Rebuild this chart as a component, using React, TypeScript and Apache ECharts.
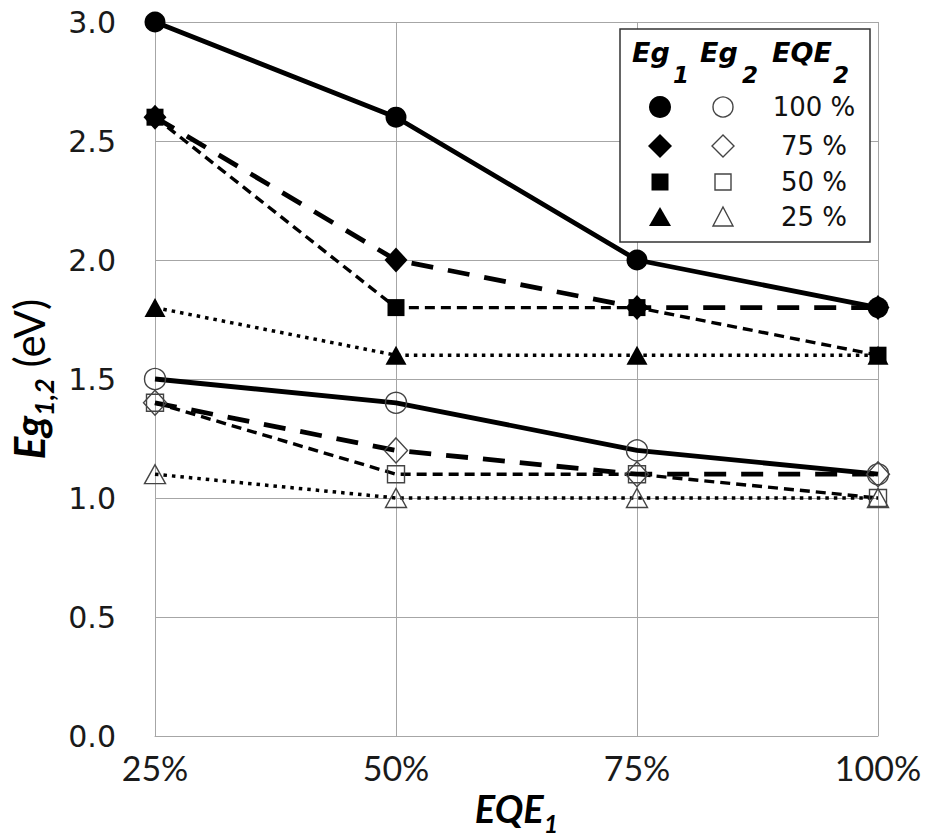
import React, { useEffect, useRef } from "react";
import * as echarts from "echarts";

const eqe1 = [25, 50, 75, 100];
const yTicks = [0, 0.5, 1.0, 1.5, 2.0, 2.5, 3.0];

// Eg1 (filled markers) by EQE2
const eg1_100 = [3.0, 2.6, 2.0, 1.8];
const eg1_75 = [2.6, 2.0, 1.8, 1.8];
const eg1_50 = [2.6, 1.8, 1.8, 1.6];
const eg1_25 = [1.8, 1.6, 1.6, 1.6];
// Eg2 (hollow markers) by EQE2
const eg2_100 = [1.5, 1.4, 1.2, 1.1];
const eg2_75 = [1.4, 1.2, 1.1, 1.1];
const eg2_50 = [1.4, 1.1, 1.1, 1.0];
const eg2_25 = [1.1, 1.0, 1.0, 1.0];

const legendRows = ["100 %", "75 %", "50 %", "25 %"];

type Kind = "100" | "75" | "50" | "25";

const lineFor: Record<Kind, { type: any; width: number }> = {
  "100": { type: "solid", width: 4.8 },
  "75": { type: [22, 15], width: 4.8 },
  "50": { type: [10, 6], width: 3.4 },
  "25": { type: [3.5, 5], width: 3.5 },
};
const symFor: Record<Kind, { symbol: string; size: any }> = {
  "100": { symbol: "circle", size: 21 },
  "75": { symbol: "diamond", size: [23, 25] },
  "50": { symbol: "rect", size: 17 },
  "25": { symbol: "triangle", size: [21, 19] },
};

function makeSeries(name: string, values: number[], kind: Kind, filled: boolean) {
  const l = lineFor[kind];
  const s = symFor[kind];
  return {
    name,
    type: "line",
    data: eqe1.map((x, i) => [x, values[i]]),
    symbol: s.symbol,
    symbolSize: s.size,
    showAllSymbol: true,
    lineStyle: { color: "#000", width: l.width, type: l.type },
    itemStyle: filled
      ? { color: "#000", borderColor: "#000", borderWidth: 0 }
      : { color: "rgba(0,0,0,0)", borderColor: "#444", borderWidth: 1.4 },
    emphasis: { disabled: true },
    z: 3,
  };
}

export default function App() {
  const ref = useRef<HTMLDivElement>(null);
  useEffect(() => {
    if (!ref.current) return;
    const chart = echarts.init(ref.current, undefined, { renderer: "svg" });
    const gridColor = "#a6a6a6";
    const legendFont = "DejaVu Sans";
    const rowsY = [107, 146, 182, 217];
    const fx = 660;
    const hx = 723;
    const graphics: any[] = [
      {
        type: "rect",
        shape: { x: 620, y: 29, width: 250, height: 213 },
        style: { fill: "#fff", stroke: "#333", lineWidth: 1.5 },
        z: 100,
      },
      // header
      { type: "text", x: 632, y: 52, z: 101, style: { text: "Eg", font: `italic bold 27px ${legendFont}`, fill: "#000", textVerticalAlign: "middle" } },
      { type: "text", x: 673, y: 75, z: 101, style: { text: "1", font: `italic bold 23px ${legendFont}`, fill: "#000", textVerticalAlign: "middle" } },
      { type: "text", x: 700, y: 52, z: 101, style: { text: "Eg", font: `italic bold 27px ${legendFont}`, fill: "#000", textVerticalAlign: "middle" } },
      { type: "text", x: 742, y: 75, z: 101, style: { text: "2", font: `italic bold 23px ${legendFont}`, fill: "#000", textVerticalAlign: "middle" } },
      { type: "text", x: 772, y: 52, z: 101, style: { text: "EQE", font: `italic bold 27px ${legendFont}`, fill: "#000", textVerticalAlign: "middle" } },
      { type: "text", x: 833, y: 75, z: 101, style: { text: "2", font: `italic bold 23px ${legendFont}`, fill: "#000", textVerticalAlign: "middle" } },
      // row 1: circles
      { type: "circle", shape: { cx: fx, cy: rowsY[0], r: 11 }, style: { fill: "#000" }, z: 101 },
      { type: "circle", shape: { cx: hx, cy: rowsY[0], r: 10 }, style: { fill: "none", stroke: "#444", lineWidth: 1.4 }, z: 101 },
      // row 2: diamonds
      { type: "polygon", shape: { points: [[fx, rowsY[1] - 12], [fx + 12, rowsY[1]], [fx, rowsY[1] + 12], [fx - 12, rowsY[1]]] }, style: { fill: "#000" }, z: 101 },
      { type: "polygon", shape: { points: [[hx, rowsY[1] - 11], [hx + 11, rowsY[1]], [hx, rowsY[1] + 11], [hx - 11, rowsY[1]]] }, style: { fill: "none", stroke: "#444", lineWidth: 1.4 }, z: 101 },
      // row 3: squares
      { type: "rect", shape: { x: fx - 8.5, y: rowsY[2] - 8.5, width: 17, height: 17 }, style: { fill: "#000" }, z: 101 },
      { type: "rect", shape: { x: hx - 8, y: rowsY[2] - 8, width: 16, height: 16 }, style: { fill: "none", stroke: "#444", lineWidth: 1.4 }, z: 101 },
      // row 4: triangles
      { type: "polygon", shape: { points: [[fx, rowsY[3] - 10], [fx + 11, rowsY[3] + 9], [fx - 11, rowsY[3] + 9]] }, style: { fill: "#000" }, z: 101 },
      { type: "polygon", shape: { points: [[hx, rowsY[3] - 10], [hx + 10, rowsY[3] + 9], [hx - 10, rowsY[3] + 9]] }, style: { fill: "none", stroke: "#444", lineWidth: 1.4 }, z: 101 },
      ...legendRows.map((t, i) => ({
        type: "text",
        x: 814,
        y: rowsY[i],
        z: 101,
        style: { text: t, font: `26px ${legendFont}`, fill: "#111", textAlign: "center", textVerticalAlign: "middle" },
      })),
    ];

    chart.setOption({
      animation: false,
      backgroundColor: "#fff",
      grid: { left: 155, right: 51, top: 22, bottom: 103, containLabel: false, outerBoundsMode: "none" },
      xAxis: {
        type: "value",
        min: 25,
        max: 100,
        interval: 25,
        name: "{a|EQE}{s|1}",
        nameLocation: "middle",
        nameGap: 34,
        nameTextStyle: {
          rich: {
            a: { fontFamily: "Lato", fontWeight: "bold", fontStyle: "italic", fontSize: 38, lineHeight: 56, color: "#000", verticalAlign: "middle" },
            s: { fontFamily: "Lato", fontWeight: "bold", fontStyle: "italic", fontSize: 25, lineHeight: 25, color: "#000", verticalAlign: "bottom" },
          },
        },
        axisLine: { show: true, lineStyle: { color: gridColor, width: 1 } },
        axisTick: { show: false },
        splitLine: { show: true, lineStyle: { color: gridColor, width: 1 } },
        axisLabel: {
          margin: 14,
          fontFamily: "Lato",
          fontSize: 34,
          color: "#1a1a1a",
          formatter: (v: number) => `${v}%`,
        },
      },
      yAxis: {
        type: "value",
        min: yTicks[0],
        max: yTicks[yTicks.length - 1],
        interval: 0.5,
        name: "{a|Eg}{s|1,2}{b| (eV)}",
        nameLocation: "middle",
        nameRotate: 90,
        nameGap: 94,
        nameTextStyle: {
          rich: {
            a: { fontFamily: "Lato", fontWeight: "bold", fontStyle: "italic", fontSize: 42, lineHeight: 56, color: "#000", verticalAlign: "middle" },
            s: { fontFamily: "Lato", fontWeight: "bold", fontStyle: "italic", fontSize: 27, color: "#000", verticalAlign: "bottom" },
            b: { fontFamily: "Lato", fontSize: 42, color: "#000", verticalAlign: "middle" },
          },
        },
        axisLine: { show: true, lineStyle: { color: gridColor, width: 1 } },
        axisTick: { show: false },
        splitLine: { show: true, lineStyle: { color: gridColor, width: 1 } },
        axisLabel: {
          margin: 39,
          fontFamily: "DejaVu Sans",
          fontSize: 30,
          color: "#1a1a1a",
          formatter: (v: number) => v.toFixed(1),
        },
      },
      graphic: graphics,
      series: [
        makeSeries("Eg2 100%", eg2_100, "100", false),
        makeSeries("Eg2 25%", eg2_25, "25", false),
        makeSeries("Eg2 50%", eg2_50, "50", false),
        makeSeries("Eg2 75%", eg2_75, "75", false),
        makeSeries("Eg1 100%", eg1_100, "100", true),
        makeSeries("Eg1 25%", eg1_25, "25", true),
        makeSeries("Eg1 50%", eg1_50, "50", true),
        makeSeries("Eg1 75%", eg1_75, "75", true),
      ],
    });
    return () => chart.dispose();
  }, []);
  return <div ref={ref} style={{ width: 929, height: 839, position: "absolute", left: 0, top: 0 }} />;
}
